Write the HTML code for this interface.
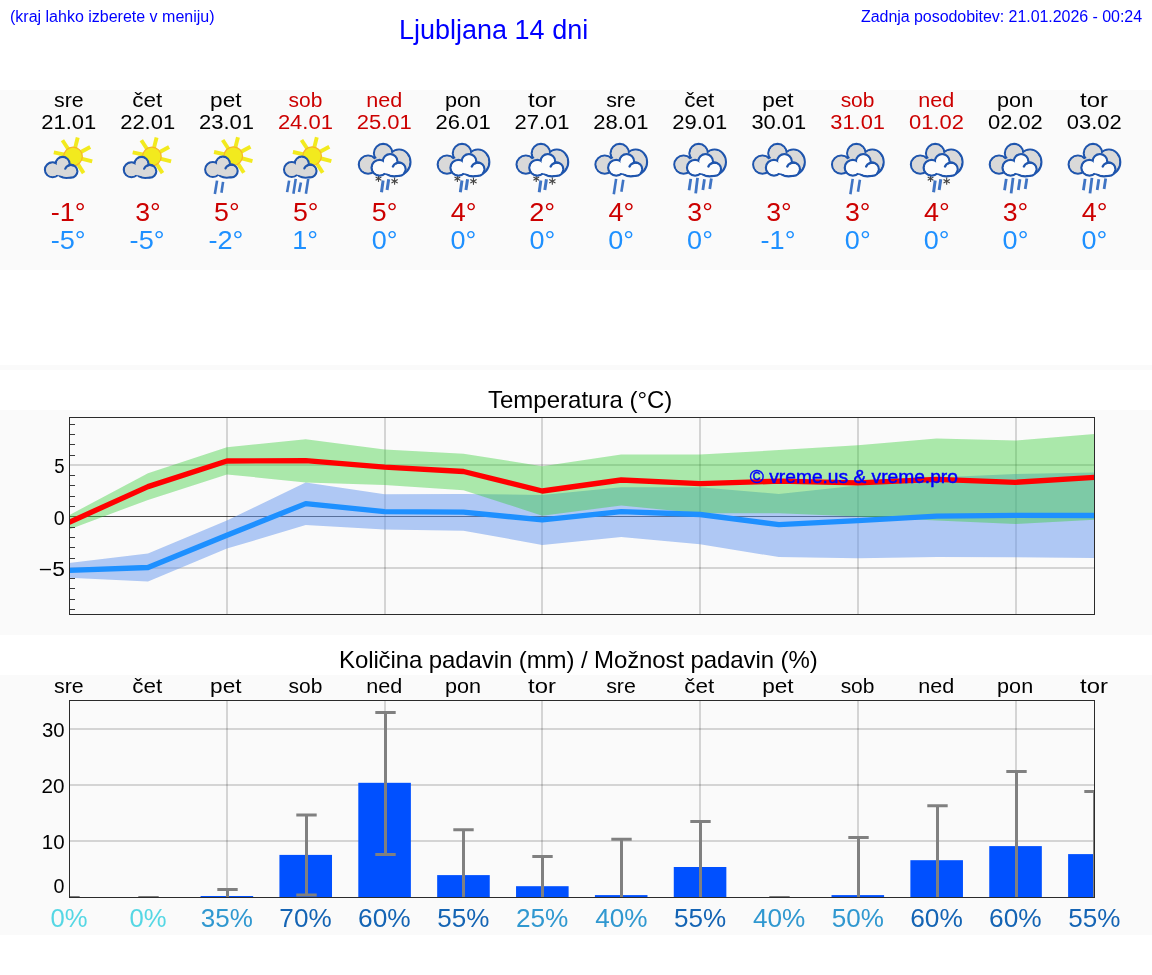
<!DOCTYPE html>
<html lang="sl"><head><meta charset="utf-8"><title>Ljubljana 14 dni</title>
<style>
html,body{margin:0;padding:0;background:#fff;}
body{width:1152px;height:975px;position:relative;overflow:hidden;font-family:"Liberation Sans", sans-serif;}
.t{position:absolute;white-space:nowrap;line-height:1;color:#0000ff;will-change:transform;}
svg text{font-family:"Liberation Sans", sans-serif;font-kerning:none;}
</style></head><body>
<svg width="1152" height="975" viewBox="0 0 1152 975" style="position:absolute;left:0;top:0;will-change:transform">
<rect x="0" y="90" width="1152" height="180" fill="#fafafa"/>
<rect x="0" y="365" width="1152" height="5" fill="#fafafa"/>
<rect x="0" y="410" width="1152" height="225" fill="#fafafa"/>
<rect x="0" y="675" width="1152" height="260" fill="#fafafa"/>
<text transform="translate(54.08 106.60) scale(1.0987 1)" font-size="19.42" fill="#000">sre</text>
<text transform="translate(41.28 128.70) scale(1.1331 1)" font-size="19.42" fill="#000">21.01</text>
<text transform="translate(50.74 221.10) scale(1.0873 1)" font-size="24.96" fill="#cc0000">-1°</text>
<text transform="translate(50.74 248.80) scale(1.0873 1)" font-size="24.96" fill="#1e90ff">-5°</text>
<text transform="translate(132.22 106.60) scale(1.1565 1)" font-size="19.42" fill="#000">čet</text>
<text transform="translate(120.14 128.70) scale(1.1331 1)" font-size="19.42" fill="#000">22.01</text>
<text transform="translate(135.21 221.10) scale(1.0706 1)" font-size="24.96" fill="#cc0000">3°</text>
<text transform="translate(129.61 248.80) scale(1.0873 1)" font-size="24.96" fill="#1e90ff">-5°</text>
<text transform="translate(210.10 106.60) scale(1.1641 1)" font-size="19.42" fill="#000">pet</text>
<text transform="translate(199.01 128.70) scale(1.1331 1)" font-size="19.42" fill="#000">23.01</text>
<text transform="translate(214.03 221.10) scale(1.0719 1)" font-size="24.96" fill="#cc0000">5°</text>
<text transform="translate(208.48 248.80) scale(1.0873 1)" font-size="24.96" fill="#1e90ff">-2°</text>
<text transform="translate(288.56 106.60) scale(1.0805 1)" font-size="19.42" fill="#cc0000">sob</text>
<text transform="translate(277.88 128.70) scale(1.1331 1)" font-size="19.42" fill="#cc0000">24.01</text>
<text transform="translate(292.90 221.10) scale(1.0719 1)" font-size="24.96" fill="#cc0000">5°</text>
<text transform="translate(292.31 248.80) scale(1.0812 1)" font-size="24.96" fill="#1e90ff">1°</text>
<text transform="translate(366.15 106.60) scale(1.1123 1)" font-size="19.42" fill="#cc0000">ned</text>
<text transform="translate(356.75 128.70) scale(1.1331 1)" font-size="19.42" fill="#cc0000">25.01</text>
<text transform="translate(371.77 221.10) scale(1.0719 1)" font-size="24.96" fill="#cc0000">5°</text>
<text transform="translate(371.65 248.80) scale(1.0832 1)" font-size="24.96" fill="#1e90ff">0°</text>
<text transform="translate(445.04 106.60) scale(1.1129 1)" font-size="19.42" fill="#000">pon</text>
<text transform="translate(435.62 128.70) scale(1.1331 1)" font-size="19.42" fill="#000">26.01</text>
<text transform="translate(450.75 221.10) scale(1.0818 1)" font-size="24.96" fill="#cc0000">4°</text>
<text transform="translate(450.52 248.80) scale(1.0832 1)" font-size="24.96" fill="#1e90ff">0°</text>
<text transform="translate(528.03 106.60) scale(1.2287 1)" font-size="19.42" fill="#000">tor</text>
<text transform="translate(514.48 128.70) scale(1.1331 1)" font-size="19.42" fill="#000">27.01</text>
<text transform="translate(529.16 221.10) scale(1.0893 1)" font-size="24.96" fill="#cc0000">2°</text>
<text transform="translate(529.39 248.80) scale(1.0832 1)" font-size="24.96" fill="#1e90ff">0°</text>
<text transform="translate(606.16 106.60) scale(1.0987 1)" font-size="19.42" fill="#000">sre</text>
<text transform="translate(593.35 128.70) scale(1.1331 1)" font-size="19.42" fill="#000">28.01</text>
<text transform="translate(608.49 221.10) scale(1.0818 1)" font-size="24.96" fill="#cc0000">4°</text>
<text transform="translate(608.26 248.80) scale(1.0832 1)" font-size="24.96" fill="#1e90ff">0°</text>
<text transform="translate(684.29 106.60) scale(1.1565 1)" font-size="19.42" fill="#000">čet</text>
<text transform="translate(672.22 128.70) scale(1.1331 1)" font-size="19.42" fill="#000">29.01</text>
<text transform="translate(687.28 221.10) scale(1.0706 1)" font-size="24.96" fill="#cc0000">3°</text>
<text transform="translate(687.12 248.80) scale(1.0832 1)" font-size="24.96" fill="#1e90ff">0°</text>
<text transform="translate(762.18 106.60) scale(1.1641 1)" font-size="19.42" fill="#000">pet</text>
<text transform="translate(751.39 128.70) scale(1.1261 1)" font-size="19.42" fill="#000">30.01</text>
<text transform="translate(766.15 221.10) scale(1.0706 1)" font-size="24.96" fill="#cc0000">3°</text>
<text transform="translate(760.55 248.80) scale(1.0873 1)" font-size="24.96" fill="#1e90ff">-1°</text>
<text transform="translate(840.64 106.60) scale(1.0805 1)" font-size="19.42" fill="#cc0000">sob</text>
<text transform="translate(830.26 128.70) scale(1.1261 1)" font-size="19.42" fill="#cc0000">31.01</text>
<text transform="translate(845.02 221.10) scale(1.0706 1)" font-size="24.96" fill="#cc0000">3°</text>
<text transform="translate(844.86 248.80) scale(1.0832 1)" font-size="24.96" fill="#1e90ff">0°</text>
<text transform="translate(918.23 106.60) scale(1.1123 1)" font-size="19.42" fill="#cc0000">ned</text>
<text transform="translate(909.08 128.70) scale(1.1283 1)" font-size="19.42" fill="#cc0000">01.02</text>
<text transform="translate(923.96 221.10) scale(1.0818 1)" font-size="24.96" fill="#cc0000">4°</text>
<text transform="translate(923.73 248.80) scale(1.0832 1)" font-size="24.96" fill="#1e90ff">0°</text>
<text transform="translate(997.11 106.60) scale(1.1129 1)" font-size="19.42" fill="#000">pon</text>
<text transform="translate(987.95 128.70) scale(1.1283 1)" font-size="19.42" fill="#000">02.02</text>
<text transform="translate(1002.76 221.10) scale(1.0706 1)" font-size="24.96" fill="#cc0000">3°</text>
<text transform="translate(1002.60 248.80) scale(1.0832 1)" font-size="24.96" fill="#1e90ff">0°</text>
<text transform="translate(1080.10 106.60) scale(1.2287 1)" font-size="19.42" fill="#000">tor</text>
<text transform="translate(1066.82 128.70) scale(1.1283 1)" font-size="19.42" fill="#000">03.02</text>
<text transform="translate(1081.70 221.10) scale(1.0818 1)" font-size="24.96" fill="#cc0000">4°</text>
<text transform="translate(1081.46 248.80) scale(1.0832 1)" font-size="24.96" fill="#1e90ff">0°</text>
<g transform="translate(38.02 132.00)"><line x1="37.05" y1="16.15" x2="39.7" y2="5.5" stroke="#f2ea1e" stroke-width="3.9"/><line x1="30.33" y1="17.30" x2="24.4" y2="8.3" stroke="#f2ea1e" stroke-width="3.9"/><line x1="26.69" y1="22.62" x2="15.8" y2="20.3" stroke="#f2ea1e" stroke-width="3.9"/><line x1="42.46" y1="20.32" x2="52.2" y2="15.0" stroke="#f2ea1e" stroke-width="3.9"/><line x1="43.23" y1="26.54" x2="54.2" y2="29.4" stroke="#f2ea1e" stroke-width="3.9"/><line x1="39.56" y1="31.58" x2="45.6" y2="41.1" stroke="#f2ea1e" stroke-width="3.9"/><circle cx="35.0" cy="24.4" r="9.3" fill="#f2ea1e" stroke="#f6b52a" stroke-width="1.2"/><g fill="#d9d9d9" stroke="#1f55ad" stroke-width="2.3"><ellipse cx="14.6" cy="37.8" rx="7.6" ry="7.4"/><ellipse cx="24.6" cy="31.9" rx="6.9" ry="6.9"/><ellipse cx="33.0" cy="39.3" rx="6.3" ry="6.3"/><ellipse cx="28.5" cy="40.4" rx="9.0" ry="5.5"/></g><g fill="#d9d9d9"><ellipse cx="14.6" cy="37.8" rx="6.60" ry="6.40"/><ellipse cx="24.6" cy="31.9" rx="5.90" ry="5.90"/><ellipse cx="33.0" cy="39.3" rx="5.30" ry="5.30"/><ellipse cx="28.5" cy="40.4" rx="8.00" ry="4.50"/><ellipse cx="23" cy="38" rx="8" ry="5.5"/></g><path d="M27.29 36.64 A6.3 6.3 0 0 1 34.63 33.21" fill="none" stroke="#1f55ad" stroke-width="2.3" stroke-linecap="round"/></g>
<g transform="translate(116.89 132.00)"><line x1="37.05" y1="16.15" x2="39.7" y2="5.5" stroke="#f2ea1e" stroke-width="3.9"/><line x1="30.33" y1="17.30" x2="24.4" y2="8.3" stroke="#f2ea1e" stroke-width="3.9"/><line x1="26.69" y1="22.62" x2="15.8" y2="20.3" stroke="#f2ea1e" stroke-width="3.9"/><line x1="42.46" y1="20.32" x2="52.2" y2="15.0" stroke="#f2ea1e" stroke-width="3.9"/><line x1="43.23" y1="26.54" x2="54.2" y2="29.4" stroke="#f2ea1e" stroke-width="3.9"/><line x1="39.56" y1="31.58" x2="45.6" y2="41.1" stroke="#f2ea1e" stroke-width="3.9"/><circle cx="35.0" cy="24.4" r="9.3" fill="#f2ea1e" stroke="#f6b52a" stroke-width="1.2"/><g fill="#d9d9d9" stroke="#1f55ad" stroke-width="2.3"><ellipse cx="14.6" cy="37.8" rx="7.6" ry="7.4"/><ellipse cx="24.6" cy="31.9" rx="6.9" ry="6.9"/><ellipse cx="33.0" cy="39.3" rx="6.3" ry="6.3"/><ellipse cx="28.5" cy="40.4" rx="9.0" ry="5.5"/></g><g fill="#d9d9d9"><ellipse cx="14.6" cy="37.8" rx="6.60" ry="6.40"/><ellipse cx="24.6" cy="31.9" rx="5.90" ry="5.90"/><ellipse cx="33.0" cy="39.3" rx="5.30" ry="5.30"/><ellipse cx="28.5" cy="40.4" rx="8.00" ry="4.50"/><ellipse cx="23" cy="38" rx="8" ry="5.5"/></g><path d="M27.29 36.64 A6.3 6.3 0 0 1 34.63 33.21" fill="none" stroke="#1f55ad" stroke-width="2.3" stroke-linecap="round"/></g>
<g transform="translate(195.76 132.00)"><g transform="translate(2.5 -0.3)"><line x1="37.05" y1="16.15" x2="39.7" y2="5.5" stroke="#f2ea1e" stroke-width="3.9"/><line x1="30.33" y1="17.30" x2="24.4" y2="8.3" stroke="#f2ea1e" stroke-width="3.9"/><line x1="26.69" y1="22.62" x2="15.8" y2="20.3" stroke="#f2ea1e" stroke-width="3.9"/><line x1="42.46" y1="20.32" x2="52.2" y2="15.0" stroke="#f2ea1e" stroke-width="3.9"/><line x1="43.23" y1="26.54" x2="54.2" y2="29.4" stroke="#f2ea1e" stroke-width="3.9"/><line x1="39.56" y1="31.58" x2="45.6" y2="41.1" stroke="#f2ea1e" stroke-width="3.9"/><circle cx="35.0" cy="24.4" r="9.3" fill="#f2ea1e" stroke="#f6b52a" stroke-width="1.2"/><g fill="#d9d9d9" stroke="#1f55ad" stroke-width="2.3"><ellipse cx="14.6" cy="37.8" rx="7.6" ry="7.4"/><ellipse cx="24.6" cy="31.9" rx="6.9" ry="6.9"/><ellipse cx="33.0" cy="39.3" rx="6.3" ry="6.3"/><ellipse cx="28.5" cy="40.4" rx="9.0" ry="5.5"/></g><g fill="#d9d9d9"><ellipse cx="14.6" cy="37.8" rx="6.60" ry="6.40"/><ellipse cx="24.6" cy="31.9" rx="5.90" ry="5.90"/><ellipse cx="33.0" cy="39.3" rx="5.30" ry="5.30"/><ellipse cx="28.5" cy="40.4" rx="8.00" ry="4.50"/><ellipse cx="23" cy="38" rx="8" ry="5.5"/></g><path d="M27.29 36.64 A6.3 6.3 0 0 1 34.63 33.21" fill="none" stroke="#1f55ad" stroke-width="2.3" stroke-linecap="round"/></g><g transform="translate(0.4 0)"><line x1="20.9" y1="48.6" x2="18.7" y2="62.0" stroke="#3f74c4" stroke-width="2.6"/><line x1="26.9" y1="49.9" x2="25.3" y2="60.7" stroke="#3f74c4" stroke-width="2.6"/></g></g>
<g transform="translate(274.62 132.00)"><g transform="translate(2.5 -0.3)"><line x1="37.05" y1="16.15" x2="39.7" y2="5.5" stroke="#f2ea1e" stroke-width="3.9"/><line x1="30.33" y1="17.30" x2="24.4" y2="8.3" stroke="#f2ea1e" stroke-width="3.9"/><line x1="26.69" y1="22.62" x2="15.8" y2="20.3" stroke="#f2ea1e" stroke-width="3.9"/><line x1="42.46" y1="20.32" x2="52.2" y2="15.0" stroke="#f2ea1e" stroke-width="3.9"/><line x1="43.23" y1="26.54" x2="54.2" y2="29.4" stroke="#f2ea1e" stroke-width="3.9"/><line x1="39.56" y1="31.58" x2="45.6" y2="41.1" stroke="#f2ea1e" stroke-width="3.9"/><circle cx="35.0" cy="24.4" r="9.3" fill="#f2ea1e" stroke="#f6b52a" stroke-width="1.2"/><g fill="#d9d9d9" stroke="#1f55ad" stroke-width="2.3"><ellipse cx="14.6" cy="37.8" rx="7.6" ry="7.4"/><ellipse cx="24.6" cy="31.9" rx="6.9" ry="6.9"/><ellipse cx="33.0" cy="39.3" rx="6.3" ry="6.3"/><ellipse cx="28.5" cy="40.4" rx="9.0" ry="5.5"/></g><g fill="#d9d9d9"><ellipse cx="14.6" cy="37.8" rx="6.60" ry="6.40"/><ellipse cx="24.6" cy="31.9" rx="5.90" ry="5.90"/><ellipse cx="33.0" cy="39.3" rx="5.30" ry="5.30"/><ellipse cx="28.5" cy="40.4" rx="8.00" ry="4.50"/><ellipse cx="23" cy="38" rx="8" ry="5.5"/></g><path d="M27.29 36.64 A6.3 6.3 0 0 1 34.63 33.21" fill="none" stroke="#1f55ad" stroke-width="2.3" stroke-linecap="round"/></g><g transform="translate(0.4 0)"><line x1="14.1" y1="48.6" x2="12.1" y2="60.1" stroke="#3f74c4" stroke-width="2.6"/><line x1="20.7" y1="46.9" x2="18.4" y2="61.7" stroke="#3f74c4" stroke-width="2.6"/><line x1="25.9" y1="50.6" x2="24.0" y2="60.1" stroke="#3f74c4" stroke-width="2.6"/><line x1="33.2" y1="46.9" x2="30.9" y2="61.7" stroke="#3f74c4" stroke-width="2.6"/></g></g>
<g transform="translate(352.59 136.50)"><line x1="25.90" y1="38.80" x2="25.90" y2="45.40" stroke="#444444" stroke-width="1.1"/><line x1="23.04" y1="40.45" x2="28.76" y2="43.75" stroke="#444444" stroke-width="1.1"/><line x1="28.76" y1="40.45" x2="23.04" y2="43.75" stroke="#444444" stroke-width="1.1"/><g fill="#d9d9d9" stroke="#1f55ad" stroke-width="2.3"><ellipse cx="15.5" cy="28.1" rx="9.2" ry="9.0"/><ellipse cx="30.6" cy="16.7" rx="9.2" ry="9.2"/><ellipse cx="46.5" cy="25.6" rx="11.3" ry="12.5"/><ellipse cx="32" cy="28" rx="14" ry="9"/></g><g fill="#d9d9d9"><ellipse cx="15.5" cy="28.1" rx="8.20" ry="8.00"/><ellipse cx="30.6" cy="16.7" rx="8.20" ry="8.20"/><ellipse cx="46.5" cy="25.6" rx="10.30" ry="11.50"/><ellipse cx="32" cy="28" rx="13.00" ry="8.00"/></g><g transform="translate(11.7 -8.5) scale(1.05)"><g fill="#fcfcfc" stroke="#1f55ad" stroke-width="2.3"><ellipse cx="14.6" cy="37.8" rx="7.6" ry="7.4"/><ellipse cx="24.6" cy="31.9" rx="6.9" ry="6.9"/><ellipse cx="33.0" cy="39.3" rx="6.3" ry="6.3"/><ellipse cx="28.5" cy="40.4" rx="9.0" ry="5.5"/></g><g fill="#fcfcfc"><ellipse cx="14.6" cy="37.8" rx="6.60" ry="6.40"/><ellipse cx="24.6" cy="31.9" rx="5.90" ry="5.90"/><ellipse cx="33.0" cy="39.3" rx="5.30" ry="5.30"/><ellipse cx="28.5" cy="40.4" rx="8.00" ry="4.50"/><ellipse cx="23" cy="38" rx="8" ry="5.5"/></g><path d="M27.29 36.64 A6.3 6.3 0 0 1 34.63 33.21" fill="none" stroke="#1f55ad" stroke-width="2.3" stroke-linecap="round"/></g><line x1="30.5" y1="44.0" x2="28.9" y2="55.8" stroke="#3f74c4" stroke-width="3.0"/><line x1="36.1" y1="42.7" x2="34.5" y2="53.5" stroke="#3f74c4" stroke-width="3.0"/><line x1="42.00" y1="41.10" x2="42.00" y2="48.30" stroke="#444444" stroke-width="1.1"/><line x1="38.88" y1="42.90" x2="45.12" y2="46.50" stroke="#444444" stroke-width="1.1"/><line x1="45.12" y1="42.90" x2="38.88" y2="46.50" stroke="#444444" stroke-width="1.1"/></g>
<g transform="translate(431.46 136.50)"><line x1="25.90" y1="38.80" x2="25.90" y2="45.40" stroke="#444444" stroke-width="1.1"/><line x1="23.04" y1="40.45" x2="28.76" y2="43.75" stroke="#444444" stroke-width="1.1"/><line x1="28.76" y1="40.45" x2="23.04" y2="43.75" stroke="#444444" stroke-width="1.1"/><g fill="#d9d9d9" stroke="#1f55ad" stroke-width="2.3"><ellipse cx="15.5" cy="28.1" rx="9.2" ry="9.0"/><ellipse cx="30.6" cy="16.7" rx="9.2" ry="9.2"/><ellipse cx="46.5" cy="25.6" rx="11.3" ry="12.5"/><ellipse cx="32" cy="28" rx="14" ry="9"/></g><g fill="#d9d9d9"><ellipse cx="15.5" cy="28.1" rx="8.20" ry="8.00"/><ellipse cx="30.6" cy="16.7" rx="8.20" ry="8.20"/><ellipse cx="46.5" cy="25.6" rx="10.30" ry="11.50"/><ellipse cx="32" cy="28" rx="13.00" ry="8.00"/></g><g transform="translate(11.7 -8.5) scale(1.05)"><g fill="#fcfcfc" stroke="#1f55ad" stroke-width="2.3"><ellipse cx="14.6" cy="37.8" rx="7.6" ry="7.4"/><ellipse cx="24.6" cy="31.9" rx="6.9" ry="6.9"/><ellipse cx="33.0" cy="39.3" rx="6.3" ry="6.3"/><ellipse cx="28.5" cy="40.4" rx="9.0" ry="5.5"/></g><g fill="#fcfcfc"><ellipse cx="14.6" cy="37.8" rx="6.60" ry="6.40"/><ellipse cx="24.6" cy="31.9" rx="5.90" ry="5.90"/><ellipse cx="33.0" cy="39.3" rx="5.30" ry="5.30"/><ellipse cx="28.5" cy="40.4" rx="8.00" ry="4.50"/><ellipse cx="23" cy="38" rx="8" ry="5.5"/></g><path d="M27.29 36.64 A6.3 6.3 0 0 1 34.63 33.21" fill="none" stroke="#1f55ad" stroke-width="2.3" stroke-linecap="round"/></g><line x1="30.5" y1="44.0" x2="28.9" y2="55.8" stroke="#3f74c4" stroke-width="3.0"/><line x1="36.1" y1="42.7" x2="34.5" y2="53.5" stroke="#3f74c4" stroke-width="3.0"/><line x1="42.00" y1="41.10" x2="42.00" y2="48.30" stroke="#444444" stroke-width="1.1"/><line x1="38.88" y1="42.90" x2="45.12" y2="46.50" stroke="#444444" stroke-width="1.1"/><line x1="45.12" y1="42.90" x2="38.88" y2="46.50" stroke="#444444" stroke-width="1.1"/></g>
<g transform="translate(510.33 136.50)"><line x1="25.90" y1="38.80" x2="25.90" y2="45.40" stroke="#444444" stroke-width="1.1"/><line x1="23.04" y1="40.45" x2="28.76" y2="43.75" stroke="#444444" stroke-width="1.1"/><line x1="28.76" y1="40.45" x2="23.04" y2="43.75" stroke="#444444" stroke-width="1.1"/><g fill="#d9d9d9" stroke="#1f55ad" stroke-width="2.3"><ellipse cx="15.5" cy="28.1" rx="9.2" ry="9.0"/><ellipse cx="30.6" cy="16.7" rx="9.2" ry="9.2"/><ellipse cx="46.5" cy="25.6" rx="11.3" ry="12.5"/><ellipse cx="32" cy="28" rx="14" ry="9"/></g><g fill="#d9d9d9"><ellipse cx="15.5" cy="28.1" rx="8.20" ry="8.00"/><ellipse cx="30.6" cy="16.7" rx="8.20" ry="8.20"/><ellipse cx="46.5" cy="25.6" rx="10.30" ry="11.50"/><ellipse cx="32" cy="28" rx="13.00" ry="8.00"/></g><g transform="translate(11.7 -8.5) scale(1.05)"><g fill="#fcfcfc" stroke="#1f55ad" stroke-width="2.3"><ellipse cx="14.6" cy="37.8" rx="7.6" ry="7.4"/><ellipse cx="24.6" cy="31.9" rx="6.9" ry="6.9"/><ellipse cx="33.0" cy="39.3" rx="6.3" ry="6.3"/><ellipse cx="28.5" cy="40.4" rx="9.0" ry="5.5"/></g><g fill="#fcfcfc"><ellipse cx="14.6" cy="37.8" rx="6.60" ry="6.40"/><ellipse cx="24.6" cy="31.9" rx="5.90" ry="5.90"/><ellipse cx="33.0" cy="39.3" rx="5.30" ry="5.30"/><ellipse cx="28.5" cy="40.4" rx="8.00" ry="4.50"/><ellipse cx="23" cy="38" rx="8" ry="5.5"/></g><path d="M27.29 36.64 A6.3 6.3 0 0 1 34.63 33.21" fill="none" stroke="#1f55ad" stroke-width="2.3" stroke-linecap="round"/></g><line x1="30.5" y1="44.0" x2="28.9" y2="55.8" stroke="#3f74c4" stroke-width="3.0"/><line x1="36.1" y1="42.7" x2="34.5" y2="53.5" stroke="#3f74c4" stroke-width="3.0"/><line x1="42.00" y1="41.10" x2="42.00" y2="48.30" stroke="#444444" stroke-width="1.1"/><line x1="38.88" y1="42.90" x2="45.12" y2="46.50" stroke="#444444" stroke-width="1.1"/><line x1="45.12" y1="42.90" x2="38.88" y2="46.50" stroke="#444444" stroke-width="1.1"/></g>
<g transform="translate(589.20 136.50)"><g fill="#d9d9d9" stroke="#1f55ad" stroke-width="2.3"><ellipse cx="15.5" cy="28.1" rx="9.2" ry="9.0"/><ellipse cx="30.6" cy="16.7" rx="9.2" ry="9.2"/><ellipse cx="46.5" cy="25.6" rx="11.3" ry="12.5"/><ellipse cx="32" cy="28" rx="14" ry="9"/></g><g fill="#d9d9d9"><ellipse cx="15.5" cy="28.1" rx="8.20" ry="8.00"/><ellipse cx="30.6" cy="16.7" rx="8.20" ry="8.20"/><ellipse cx="46.5" cy="25.6" rx="10.30" ry="11.50"/><ellipse cx="32" cy="28" rx="13.00" ry="8.00"/></g><g transform="translate(11.7 -8.5) scale(1.05)"><g fill="#fcfcfc" stroke="#1f55ad" stroke-width="2.3"><ellipse cx="14.6" cy="37.8" rx="7.6" ry="7.4"/><ellipse cx="24.6" cy="31.9" rx="6.9" ry="6.9"/><ellipse cx="33.0" cy="39.3" rx="6.3" ry="6.3"/><ellipse cx="28.5" cy="40.4" rx="9.0" ry="5.5"/></g><g fill="#fcfcfc"><ellipse cx="14.6" cy="37.8" rx="6.60" ry="6.40"/><ellipse cx="24.6" cy="31.9" rx="5.90" ry="5.90"/><ellipse cx="33.0" cy="39.3" rx="5.30" ry="5.30"/><ellipse cx="28.5" cy="40.4" rx="8.00" ry="4.50"/><ellipse cx="23" cy="38" rx="8" ry="5.5"/></g><path d="M27.29 36.64 A6.3 6.3 0 0 1 34.63 33.21" fill="none" stroke="#1f55ad" stroke-width="2.3" stroke-linecap="round"/></g><line x1="26.9" y1="42.4" x2="24.6" y2="57.8" stroke="#3f74c4" stroke-width="2.6"/><line x1="34.1" y1="43.3" x2="32.2" y2="55.2" stroke="#3f74c4" stroke-width="2.6"/></g>
<g transform="translate(668.06 136.50)"><g fill="#d9d9d9" stroke="#1f55ad" stroke-width="2.3"><ellipse cx="15.5" cy="28.1" rx="9.2" ry="9.0"/><ellipse cx="30.6" cy="16.7" rx="9.2" ry="9.2"/><ellipse cx="46.5" cy="25.6" rx="11.3" ry="12.5"/><ellipse cx="32" cy="28" rx="14" ry="9"/></g><g fill="#d9d9d9"><ellipse cx="15.5" cy="28.1" rx="8.20" ry="8.00"/><ellipse cx="30.6" cy="16.7" rx="8.20" ry="8.20"/><ellipse cx="46.5" cy="25.6" rx="10.30" ry="11.50"/><ellipse cx="32" cy="28" rx="13.00" ry="8.00"/></g><g transform="translate(11.7 -8.5) scale(1.05)"><g fill="#fcfcfc" stroke="#1f55ad" stroke-width="2.3"><ellipse cx="14.6" cy="37.8" rx="7.6" ry="7.4"/><ellipse cx="24.6" cy="31.9" rx="6.9" ry="6.9"/><ellipse cx="33.0" cy="39.3" rx="6.3" ry="6.3"/><ellipse cx="28.5" cy="40.4" rx="9.0" ry="5.5"/></g><g fill="#fcfcfc"><ellipse cx="14.6" cy="37.8" rx="6.60" ry="6.40"/><ellipse cx="24.6" cy="31.9" rx="5.90" ry="5.90"/><ellipse cx="33.0" cy="39.3" rx="5.30" ry="5.30"/><ellipse cx="28.5" cy="40.4" rx="8.00" ry="4.50"/><ellipse cx="23" cy="38" rx="8" ry="5.5"/></g><path d="M27.29 36.64 A6.3 6.3 0 0 1 34.63 33.21" fill="none" stroke="#1f55ad" stroke-width="2.3" stroke-linecap="round"/></g><line x1="22.7" y1="42.4" x2="21.0" y2="53.8" stroke="#3f74c4" stroke-width="2.8"/><line x1="29.5" y1="41.4" x2="27.6" y2="56.8" stroke="#3f74c4" stroke-width="2.8"/><line x1="36.4" y1="42.7" x2="34.8" y2="53.5" stroke="#3f74c4" stroke-width="2.8"/><line x1="43.3" y1="42.0" x2="41.7" y2="52.5" stroke="#3f74c4" stroke-width="2.8"/></g>
<g transform="translate(746.93 136.50)"><g fill="#d9d9d9" stroke="#1f55ad" stroke-width="2.3"><ellipse cx="15.5" cy="28.1" rx="9.2" ry="9.0"/><ellipse cx="30.6" cy="16.7" rx="9.2" ry="9.2"/><ellipse cx="46.5" cy="25.6" rx="11.3" ry="12.5"/><ellipse cx="32" cy="28" rx="14" ry="9"/></g><g fill="#d9d9d9"><ellipse cx="15.5" cy="28.1" rx="8.20" ry="8.00"/><ellipse cx="30.6" cy="16.7" rx="8.20" ry="8.20"/><ellipse cx="46.5" cy="25.6" rx="10.30" ry="11.50"/><ellipse cx="32" cy="28" rx="13.00" ry="8.00"/></g><g transform="translate(11.7 -8.5) scale(1.05)"><g fill="#fcfcfc" stroke="#1f55ad" stroke-width="2.3"><ellipse cx="14.6" cy="37.8" rx="7.6" ry="7.4"/><ellipse cx="24.6" cy="31.9" rx="6.9" ry="6.9"/><ellipse cx="33.0" cy="39.3" rx="6.3" ry="6.3"/><ellipse cx="28.5" cy="40.4" rx="9.0" ry="5.5"/></g><g fill="#fcfcfc"><ellipse cx="14.6" cy="37.8" rx="6.60" ry="6.40"/><ellipse cx="24.6" cy="31.9" rx="5.90" ry="5.90"/><ellipse cx="33.0" cy="39.3" rx="5.30" ry="5.30"/><ellipse cx="28.5" cy="40.4" rx="8.00" ry="4.50"/><ellipse cx="23" cy="38" rx="8" ry="5.5"/></g><path d="M27.29 36.64 A6.3 6.3 0 0 1 34.63 33.21" fill="none" stroke="#1f55ad" stroke-width="2.3" stroke-linecap="round"/></g></g>
<g transform="translate(825.80 136.50)"><g fill="#d9d9d9" stroke="#1f55ad" stroke-width="2.3"><ellipse cx="15.5" cy="28.1" rx="9.2" ry="9.0"/><ellipse cx="30.6" cy="16.7" rx="9.2" ry="9.2"/><ellipse cx="46.5" cy="25.6" rx="11.3" ry="12.5"/><ellipse cx="32" cy="28" rx="14" ry="9"/></g><g fill="#d9d9d9"><ellipse cx="15.5" cy="28.1" rx="8.20" ry="8.00"/><ellipse cx="30.6" cy="16.7" rx="8.20" ry="8.20"/><ellipse cx="46.5" cy="25.6" rx="10.30" ry="11.50"/><ellipse cx="32" cy="28" rx="13.00" ry="8.00"/></g><g transform="translate(11.7 -8.5) scale(1.05)"><g fill="#fcfcfc" stroke="#1f55ad" stroke-width="2.3"><ellipse cx="14.6" cy="37.8" rx="7.6" ry="7.4"/><ellipse cx="24.6" cy="31.9" rx="6.9" ry="6.9"/><ellipse cx="33.0" cy="39.3" rx="6.3" ry="6.3"/><ellipse cx="28.5" cy="40.4" rx="9.0" ry="5.5"/></g><g fill="#fcfcfc"><ellipse cx="14.6" cy="37.8" rx="6.60" ry="6.40"/><ellipse cx="24.6" cy="31.9" rx="5.90" ry="5.90"/><ellipse cx="33.0" cy="39.3" rx="5.30" ry="5.30"/><ellipse cx="28.5" cy="40.4" rx="8.00" ry="4.50"/><ellipse cx="23" cy="38" rx="8" ry="5.5"/></g><path d="M27.29 36.64 A6.3 6.3 0 0 1 34.63 33.21" fill="none" stroke="#1f55ad" stroke-width="2.3" stroke-linecap="round"/></g><line x1="26.9" y1="42.4" x2="24.6" y2="57.8" stroke="#3f74c4" stroke-width="2.6"/><line x1="34.1" y1="43.3" x2="32.2" y2="55.2" stroke="#3f74c4" stroke-width="2.6"/></g>
<g transform="translate(904.67 136.50)"><line x1="25.90" y1="38.80" x2="25.90" y2="45.40" stroke="#444444" stroke-width="1.1"/><line x1="23.04" y1="40.45" x2="28.76" y2="43.75" stroke="#444444" stroke-width="1.1"/><line x1="28.76" y1="40.45" x2="23.04" y2="43.75" stroke="#444444" stroke-width="1.1"/><g fill="#d9d9d9" stroke="#1f55ad" stroke-width="2.3"><ellipse cx="15.5" cy="28.1" rx="9.2" ry="9.0"/><ellipse cx="30.6" cy="16.7" rx="9.2" ry="9.2"/><ellipse cx="46.5" cy="25.6" rx="11.3" ry="12.5"/><ellipse cx="32" cy="28" rx="14" ry="9"/></g><g fill="#d9d9d9"><ellipse cx="15.5" cy="28.1" rx="8.20" ry="8.00"/><ellipse cx="30.6" cy="16.7" rx="8.20" ry="8.20"/><ellipse cx="46.5" cy="25.6" rx="10.30" ry="11.50"/><ellipse cx="32" cy="28" rx="13.00" ry="8.00"/></g><g transform="translate(11.7 -8.5) scale(1.05)"><g fill="#fcfcfc" stroke="#1f55ad" stroke-width="2.3"><ellipse cx="14.6" cy="37.8" rx="7.6" ry="7.4"/><ellipse cx="24.6" cy="31.9" rx="6.9" ry="6.9"/><ellipse cx="33.0" cy="39.3" rx="6.3" ry="6.3"/><ellipse cx="28.5" cy="40.4" rx="9.0" ry="5.5"/></g><g fill="#fcfcfc"><ellipse cx="14.6" cy="37.8" rx="6.60" ry="6.40"/><ellipse cx="24.6" cy="31.9" rx="5.90" ry="5.90"/><ellipse cx="33.0" cy="39.3" rx="5.30" ry="5.30"/><ellipse cx="28.5" cy="40.4" rx="8.00" ry="4.50"/><ellipse cx="23" cy="38" rx="8" ry="5.5"/></g><path d="M27.29 36.64 A6.3 6.3 0 0 1 34.63 33.21" fill="none" stroke="#1f55ad" stroke-width="2.3" stroke-linecap="round"/></g><line x1="30.5" y1="44.0" x2="28.9" y2="55.8" stroke="#3f74c4" stroke-width="3.0"/><line x1="36.1" y1="42.7" x2="34.5" y2="53.5" stroke="#3f74c4" stroke-width="3.0"/><line x1="42.00" y1="41.10" x2="42.00" y2="48.30" stroke="#444444" stroke-width="1.1"/><line x1="38.88" y1="42.90" x2="45.12" y2="46.50" stroke="#444444" stroke-width="1.1"/><line x1="45.12" y1="42.90" x2="38.88" y2="46.50" stroke="#444444" stroke-width="1.1"/></g>
<g transform="translate(983.54 136.50)"><g fill="#d9d9d9" stroke="#1f55ad" stroke-width="2.3"><ellipse cx="15.5" cy="28.1" rx="9.2" ry="9.0"/><ellipse cx="30.6" cy="16.7" rx="9.2" ry="9.2"/><ellipse cx="46.5" cy="25.6" rx="11.3" ry="12.5"/><ellipse cx="32" cy="28" rx="14" ry="9"/></g><g fill="#d9d9d9"><ellipse cx="15.5" cy="28.1" rx="8.20" ry="8.00"/><ellipse cx="30.6" cy="16.7" rx="8.20" ry="8.20"/><ellipse cx="46.5" cy="25.6" rx="10.30" ry="11.50"/><ellipse cx="32" cy="28" rx="13.00" ry="8.00"/></g><g transform="translate(11.7 -8.5) scale(1.05)"><g fill="#fcfcfc" stroke="#1f55ad" stroke-width="2.3"><ellipse cx="14.6" cy="37.8" rx="7.6" ry="7.4"/><ellipse cx="24.6" cy="31.9" rx="6.9" ry="6.9"/><ellipse cx="33.0" cy="39.3" rx="6.3" ry="6.3"/><ellipse cx="28.5" cy="40.4" rx="9.0" ry="5.5"/></g><g fill="#fcfcfc"><ellipse cx="14.6" cy="37.8" rx="6.60" ry="6.40"/><ellipse cx="24.6" cy="31.9" rx="5.90" ry="5.90"/><ellipse cx="33.0" cy="39.3" rx="5.30" ry="5.30"/><ellipse cx="28.5" cy="40.4" rx="8.00" ry="4.50"/><ellipse cx="23" cy="38" rx="8" ry="5.5"/></g><path d="M27.29 36.64 A6.3 6.3 0 0 1 34.63 33.21" fill="none" stroke="#1f55ad" stroke-width="2.3" stroke-linecap="round"/></g><line x1="22.7" y1="42.4" x2="21.0" y2="53.8" stroke="#3f74c4" stroke-width="2.8"/><line x1="29.5" y1="41.4" x2="27.6" y2="56.8" stroke="#3f74c4" stroke-width="2.8"/><line x1="36.4" y1="42.7" x2="34.8" y2="53.5" stroke="#3f74c4" stroke-width="2.8"/><line x1="43.3" y1="42.0" x2="41.7" y2="52.5" stroke="#3f74c4" stroke-width="2.8"/></g>
<g transform="translate(1062.40 136.50)"><g fill="#d9d9d9" stroke="#1f55ad" stroke-width="2.3"><ellipse cx="15.5" cy="28.1" rx="9.2" ry="9.0"/><ellipse cx="30.6" cy="16.7" rx="9.2" ry="9.2"/><ellipse cx="46.5" cy="25.6" rx="11.3" ry="12.5"/><ellipse cx="32" cy="28" rx="14" ry="9"/></g><g fill="#d9d9d9"><ellipse cx="15.5" cy="28.1" rx="8.20" ry="8.00"/><ellipse cx="30.6" cy="16.7" rx="8.20" ry="8.20"/><ellipse cx="46.5" cy="25.6" rx="10.30" ry="11.50"/><ellipse cx="32" cy="28" rx="13.00" ry="8.00"/></g><g transform="translate(11.7 -8.5) scale(1.05)"><g fill="#fcfcfc" stroke="#1f55ad" stroke-width="2.3"><ellipse cx="14.6" cy="37.8" rx="7.6" ry="7.4"/><ellipse cx="24.6" cy="31.9" rx="6.9" ry="6.9"/><ellipse cx="33.0" cy="39.3" rx="6.3" ry="6.3"/><ellipse cx="28.5" cy="40.4" rx="9.0" ry="5.5"/></g><g fill="#fcfcfc"><ellipse cx="14.6" cy="37.8" rx="6.60" ry="6.40"/><ellipse cx="24.6" cy="31.9" rx="5.90" ry="5.90"/><ellipse cx="33.0" cy="39.3" rx="5.30" ry="5.30"/><ellipse cx="28.5" cy="40.4" rx="8.00" ry="4.50"/><ellipse cx="23" cy="38" rx="8" ry="5.5"/></g><path d="M27.29 36.64 A6.3 6.3 0 0 1 34.63 33.21" fill="none" stroke="#1f55ad" stroke-width="2.3" stroke-linecap="round"/></g><line x1="22.7" y1="42.4" x2="21.0" y2="53.8" stroke="#3f74c4" stroke-width="2.8"/><line x1="29.5" y1="41.4" x2="27.6" y2="56.8" stroke="#3f74c4" stroke-width="2.8"/><line x1="36.4" y1="42.7" x2="34.8" y2="53.5" stroke="#3f74c4" stroke-width="2.8"/><line x1="43.3" y1="42.0" x2="41.7" y2="52.5" stroke="#3f74c4" stroke-width="2.8"/></g>
<defs><clipPath id="ct"><rect x="69.5" y="417.5" width="1025.0" height="197.0"/></clipPath><clipPath id="cp"><rect x="69.5" y="700.5" width="1025.0" height="197.0"/></clipPath></defs>
<line x1="227" y1="417.5" x2="227" y2="614.5" stroke="#000" stroke-opacity="0.15" stroke-width="2"/>
<line x1="385" y1="417.5" x2="385" y2="614.5" stroke="#000" stroke-opacity="0.15" stroke-width="2"/>
<line x1="542" y1="417.5" x2="542" y2="614.5" stroke="#000" stroke-opacity="0.15" stroke-width="2"/>
<line x1="700" y1="417.5" x2="700" y2="614.5" stroke="#000" stroke-opacity="0.15" stroke-width="2"/>
<line x1="858" y1="417.5" x2="858" y2="614.5" stroke="#000" stroke-opacity="0.15" stroke-width="2"/>
<line x1="1016" y1="417.5" x2="1016" y2="614.5" stroke="#000" stroke-opacity="0.15" stroke-width="2"/>
<line x1="69.5" y1="465" x2="1094.5" y2="465" stroke="#000" stroke-opacity="0.15" stroke-width="2"/>
<line x1="69.5" y1="568" x2="1094.5" y2="568" stroke="#000" stroke-opacity="0.15" stroke-width="2"/>
<line x1="69.5" y1="516.5" x2="1094.5" y2="516.5" stroke="#000" stroke-opacity="0.7" stroke-width="1"/>
<polygon clip-path="url(#ct)" points="69.1,563.1 148.0,553.4 226.9,520.6 305.7,482.4 384.6,494.3 463.5,493.9 542.3,495.1 621.2,487.3 700.1,487.3 778.9,493.9 857.8,485.4 936.7,477.6 1015.5,474.0 1094.4,472.4 1094.4,558.1 1015.5,557.3 936.7,557.1 857.8,558.3 778.9,557.1 700.1,544.2 621.2,536.9 542.3,544.9 463.5,530.8 384.6,529.6 305.7,525.0 226.9,548.6 148.0,581.4 69.1,577.7" fill="#6495ed" fill-opacity="0.5"/>
<polygon clip-path="url(#ct)" points="69.1,515.2 148.0,473.2 226.9,447.2 305.7,439.2 384.6,449.6 463.5,453.8 542.3,466.2 621.2,454.5 700.1,454.5 778.9,450.1 857.8,445.2 936.7,438.4 1015.5,440.6 1094.4,434.1 1094.4,519.8 1015.5,524.0 936.7,520.6 857.8,516.5 778.9,513.3 700.1,513.3 621.2,505.5 542.3,515.7 463.5,490.2 384.6,484.9 305.7,482.4 226.9,474.4 148.0,499.9 69.1,529.4" fill="#32cd32" fill-opacity="0.4"/>
<polyline clip-path="url(#ct)" points="69.1,522.3 148.0,486.6 226.9,461.0 305.7,460.6 384.6,467.1 463.5,471.5 542.3,491.0 621.2,480.0 700.1,483.7 778.9,481.2 857.8,482.9 936.7,479.3 1015.5,482.3 1094.4,477.4" fill="none" stroke="#ff0000" stroke-width="5.33" stroke-linejoin="round"/>
<polyline clip-path="url(#ct)" points="69.1,570.4 148.0,567.5 226.9,535.2 305.7,503.6 384.6,511.6 463.5,512.1 542.3,519.9 621.2,511.6 700.1,514.5 778.9,524.7 857.8,520.6 936.7,516.2 1015.5,515.3 1094.4,515.5" fill="none" stroke="#1e90ff" stroke-width="5.33" stroke-linejoin="round"/>
<line x1="70.0" y1="609.5" x2="75.0" y2="609.5" stroke="#3a3a3a" stroke-width="1"/>
<line x1="70.0" y1="599.5" x2="75.0" y2="599.5" stroke="#3a3a3a" stroke-width="1"/>
<line x1="70.0" y1="588.5" x2="75.0" y2="588.5" stroke="#3a3a3a" stroke-width="1"/>
<line x1="70.0" y1="578.5" x2="75.0" y2="578.5" stroke="#3a3a3a" stroke-width="1"/>
<line x1="70.0" y1="558.5" x2="75.0" y2="558.5" stroke="#3a3a3a" stroke-width="1"/>
<line x1="70.0" y1="547.5" x2="75.0" y2="547.5" stroke="#3a3a3a" stroke-width="1"/>
<line x1="70.0" y1="537.5" x2="75.0" y2="537.5" stroke="#3a3a3a" stroke-width="1"/>
<line x1="70.0" y1="527.5" x2="75.0" y2="527.5" stroke="#3a3a3a" stroke-width="1"/>
<line x1="70.0" y1="506.5" x2="75.0" y2="506.5" stroke="#3a3a3a" stroke-width="1"/>
<line x1="70.0" y1="496.5" x2="75.0" y2="496.5" stroke="#3a3a3a" stroke-width="1"/>
<line x1="70.0" y1="485.5" x2="75.0" y2="485.5" stroke="#3a3a3a" stroke-width="1"/>
<line x1="70.0" y1="475.5" x2="75.0" y2="475.5" stroke="#3a3a3a" stroke-width="1"/>
<line x1="70.0" y1="455.5" x2="75.0" y2="455.5" stroke="#3a3a3a" stroke-width="1"/>
<line x1="70.0" y1="444.5" x2="75.0" y2="444.5" stroke="#3a3a3a" stroke-width="1"/>
<line x1="70.0" y1="434.5" x2="75.0" y2="434.5" stroke="#3a3a3a" stroke-width="1"/>
<line x1="70.0" y1="424.5" x2="75.0" y2="424.5" stroke="#3a3a3a" stroke-width="1"/>
<rect x="69.5" y="417.5" width="1025.0" height="197.0" fill="none" stroke="#2b2b2b" stroke-width="1"/>
<text transform="translate(54.35 472.80) scale(0.9566 1)" font-size="19.42" fill="#000">5</text>
<text transform="translate(53.72 524.80) scale(1.0136 1)" font-size="19.42" fill="#000">0</text>
<text transform="translate(38.86 575.80) scale(1.1742 1)" font-size="19.42" fill="#000">−5</text>
<text transform="translate(749.8 483) scale(1.066 1)" font-size="18" fill="#0000ff" stroke="#0000ff" stroke-width="0.45">© vreme.us &amp; vreme.pro</text>
<line x1="227" y1="700.5" x2="227" y2="897.5" stroke="#000" stroke-opacity="0.15" stroke-width="2"/>
<line x1="385" y1="700.5" x2="385" y2="897.5" stroke="#000" stroke-opacity="0.15" stroke-width="2"/>
<line x1="542" y1="700.5" x2="542" y2="897.5" stroke="#000" stroke-opacity="0.15" stroke-width="2"/>
<line x1="700" y1="700.5" x2="700" y2="897.5" stroke="#000" stroke-opacity="0.15" stroke-width="2"/>
<line x1="858" y1="700.5" x2="858" y2="897.5" stroke="#000" stroke-opacity="0.15" stroke-width="2"/>
<line x1="1016" y1="700.5" x2="1016" y2="897.5" stroke="#000" stroke-opacity="0.15" stroke-width="2"/>
<line x1="69.5" y1="841.0" x2="1094.5" y2="841.0" stroke="#000" stroke-opacity="0.15" stroke-width="2"/>
<line x1="69.5" y1="785.0" x2="1094.5" y2="785.0" stroke="#000" stroke-opacity="0.15" stroke-width="2"/>
<line x1="69.5" y1="729.0" x2="1094.5" y2="729.0" stroke="#000" stroke-opacity="0.15" stroke-width="2"/>
<g clip-path="url(#cp)">
<rect x="200.57" y="896.00" width="52.58" height="1.50" fill="#0050ff"/>
<rect x="279.43" y="854.90" width="52.58" height="42.60" fill="#0050ff"/>
<rect x="358.30" y="782.80" width="52.58" height="114.70" fill="#0050ff"/>
<rect x="437.17" y="875.10" width="52.58" height="22.40" fill="#0050ff"/>
<rect x="516.04" y="886.20" width="52.58" height="11.30" fill="#0050ff"/>
<rect x="594.91" y="895.10" width="52.58" height="2.40" fill="#0050ff"/>
<rect x="673.77" y="867.00" width="52.58" height="30.50" fill="#0050ff"/>
<rect x="831.51" y="895.10" width="52.58" height="2.40" fill="#0050ff"/>
<rect x="910.38" y="860.20" width="52.58" height="37.30" fill="#0050ff"/>
<rect x="989.25" y="846.10" width="52.58" height="51.40" fill="#0050ff"/>
<rect x="1068.11" y="854.10" width="52.58" height="43.40" fill="#0050ff"/>
<line x1="59.30" y1="896.9" x2="79.70" y2="896.9" stroke="#505050" stroke-width="1.2"/>
<line x1="138.30" y1="896.9" x2="158.70" y2="896.9" stroke="#505050" stroke-width="1.2"/>
<line x1="227.5" y1="889.60" x2="227.5" y2="897.00" stroke="#808080" stroke-width="3"/>
<line x1="217.30" y1="889.60" x2="237.70" y2="889.60" stroke="#808080" stroke-width="3"/>
<line x1="306.5" y1="814.90" x2="306.5" y2="895.10" stroke="#808080" stroke-width="3"/>
<line x1="296.30" y1="814.90" x2="316.70" y2="814.90" stroke="#808080" stroke-width="3"/>
<line x1="296.30" y1="895.10" x2="316.70" y2="895.10" stroke="#808080" stroke-width="3"/>
<line x1="385.5" y1="712.60" x2="385.5" y2="854.60" stroke="#808080" stroke-width="3"/>
<line x1="375.30" y1="712.60" x2="395.70" y2="712.60" stroke="#808080" stroke-width="3"/>
<line x1="375.30" y1="854.60" x2="395.70" y2="854.60" stroke="#808080" stroke-width="3"/>
<line x1="463.5" y1="829.70" x2="463.5" y2="897.00" stroke="#808080" stroke-width="3"/>
<line x1="453.30" y1="829.70" x2="473.70" y2="829.70" stroke="#808080" stroke-width="3"/>
<line x1="542.5" y1="856.40" x2="542.5" y2="897.00" stroke="#808080" stroke-width="3"/>
<line x1="532.30" y1="856.40" x2="552.70" y2="856.40" stroke="#808080" stroke-width="3"/>
<line x1="621.5" y1="839.20" x2="621.5" y2="897.00" stroke="#808080" stroke-width="3"/>
<line x1="611.30" y1="839.20" x2="631.70" y2="839.20" stroke="#808080" stroke-width="3"/>
<line x1="700.5" y1="821.50" x2="700.5" y2="897.00" stroke="#808080" stroke-width="3"/>
<line x1="690.30" y1="821.50" x2="710.70" y2="821.50" stroke="#808080" stroke-width="3"/>
<line x1="769.30" y1="896.9" x2="789.70" y2="896.9" stroke="#505050" stroke-width="1.2"/>
<line x1="858.5" y1="837.50" x2="858.5" y2="897.00" stroke="#808080" stroke-width="3"/>
<line x1="848.30" y1="837.50" x2="868.70" y2="837.50" stroke="#808080" stroke-width="3"/>
<line x1="937.5" y1="805.70" x2="937.5" y2="897.00" stroke="#808080" stroke-width="3"/>
<line x1="927.30" y1="805.70" x2="947.70" y2="805.70" stroke="#808080" stroke-width="3"/>
<line x1="1016.5" y1="771.60" x2="1016.5" y2="897.00" stroke="#808080" stroke-width="3"/>
<line x1="1006.30" y1="771.60" x2="1026.70" y2="771.60" stroke="#808080" stroke-width="3"/>
<line x1="1094.5" y1="791.40" x2="1094.5" y2="897.00" stroke="#808080" stroke-width="3"/>
<line x1="1084.30" y1="791.40" x2="1104.70" y2="791.40" stroke="#808080" stroke-width="3"/>
</g>
<rect x="69.5" y="700.5" width="1025.0" height="197.0" fill="none" stroke="#2b2b2b" stroke-width="1"/>
<text transform="translate(41.93 736.90) scale(1.0495 1)" font-size="19.42" fill="#000">30</text>
<text transform="translate(41.61 792.90) scale(1.0648 1)" font-size="19.42" fill="#000">20</text>
<text transform="translate(41.77 848.90) scale(1.0571 1)" font-size="19.42" fill="#000">10</text>
<text transform="translate(53.62 892.60) scale(1.0136 1)" font-size="19.42" fill="#000">0</text>
<text transform="translate(54.08 692.60) scale(1.0987 1)" font-size="19.42" fill="#000">sre</text>
<text transform="translate(50.53 926.60) scale(1.0280 1)" font-size="24.96" fill="#55d7e4">0%</text>
<text transform="translate(132.22 692.60) scale(1.1565 1)" font-size="19.42" fill="#000">čet</text>
<text transform="translate(129.40 926.60) scale(1.0280 1)" font-size="24.96" fill="#55d7e4">0%</text>
<text transform="translate(210.10 692.60) scale(1.1641 1)" font-size="19.42" fill="#000">pet</text>
<text transform="translate(200.77 926.60) scale(1.0431 1)" font-size="24.96" fill="#3098d0">35%</text>
<text transform="translate(288.56 692.60) scale(1.0805 1)" font-size="19.42" fill="#000">sob</text>
<text transform="translate(279.36 926.60) scale(1.0474 1)" font-size="24.96" fill="#1464b4">70%</text>
<text transform="translate(366.15 692.60) scale(1.1123 1)" font-size="19.42" fill="#000">ned</text>
<text transform="translate(358.09 926.60) scale(1.0532 1)" font-size="24.96" fill="#1464b4">60%</text>
<text transform="translate(445.04 692.60) scale(1.1129 1)" font-size="19.42" fill="#000">pon</text>
<text transform="translate(437.33 926.60) scale(1.0437 1)" font-size="24.96" fill="#1464b4">55%</text>
<text transform="translate(528.03 692.60) scale(1.2287 1)" font-size="19.42" fill="#000">tor</text>
<text transform="translate(515.88 926.60) scale(1.0512 1)" font-size="24.96" fill="#3098d0">25%</text>
<text transform="translate(606.16 692.60) scale(1.0987 1)" font-size="19.42" fill="#000">sre</text>
<text transform="translate(595.17 926.60) scale(1.0485 1)" font-size="24.96" fill="#3098d0">40%</text>
<text transform="translate(684.29 692.60) scale(1.1565 1)" font-size="19.42" fill="#000">čet</text>
<text transform="translate(673.94 926.60) scale(1.0437 1)" font-size="24.96" fill="#1464b4">55%</text>
<text transform="translate(762.18 692.60) scale(1.1641 1)" font-size="19.42" fill="#000">pet</text>
<text transform="translate(752.91 926.60) scale(1.0485 1)" font-size="24.96" fill="#3098d0">40%</text>
<text transform="translate(840.64 692.60) scale(1.0805 1)" font-size="19.42" fill="#000">sob</text>
<text transform="translate(831.67 926.60) scale(1.0437 1)" font-size="24.96" fill="#3098d0">50%</text>
<text transform="translate(918.23 692.60) scale(1.1123 1)" font-size="19.42" fill="#000">ned</text>
<text transform="translate(910.16 926.60) scale(1.0532 1)" font-size="24.96" fill="#1464b4">60%</text>
<text transform="translate(997.11 692.60) scale(1.1129 1)" font-size="19.42" fill="#000">pon</text>
<text transform="translate(989.03 926.60) scale(1.0532 1)" font-size="24.96" fill="#1464b4">60%</text>
<text transform="translate(1080.10 692.60) scale(1.2287 1)" font-size="19.42" fill="#000">tor</text>
<text transform="translate(1068.28 926.60) scale(1.0437 1)" font-size="24.96" fill="#1464b4">55%</text>
</svg>
<div class="t" style="left:10px;top:9px;font-size:16px;">(kraj lahko izberete v meniju)</div>
<div class="t" style="left:399px;top:17px;font-size:27px;">Ljubljana 14 dni</div>
<div class="t" style="right:10px;top:9px;font-size:16px;letter-spacing:-0.05px;">Zadnja posodobitev: 21.01.2026 - 00:24</div>
<div class="t" style="left:488px;top:388px;font-size:24px;color:#000;">Temperatura (°C)</div>
<div class="t" style="left:339px;top:648px;font-size:24px;letter-spacing:-0.1px;color:#000;">Količina padavin (mm) / Možnost padavin (%)</div>
</body></html>
